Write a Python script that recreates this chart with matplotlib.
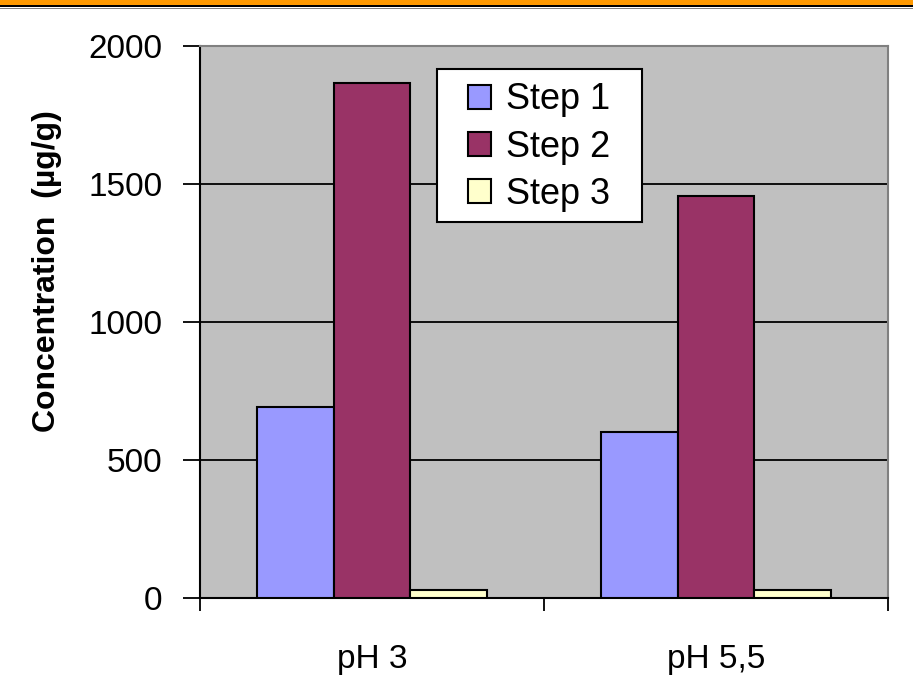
import numpy as np
import matplotlib.pyplot as plt
from matplotlib.patches import Rectangle

plt.rcParams['font.family'] = ['Liberation Sans', 'DejaVu Sans']

# Données
categories = ['pH 3', 'pH 5,5']
series = ['Step 1', 'Step 2', 'Step 3']
step1 = [692, 601]
step2 = [1866, 1457]
step3 = [30, 30]
colors = ['#9999FF', '#993366', '#FFFFCC']

fig = plt.figure(figsize=(9.13, 6.89), dpi=100)
ax = fig.add_axes([0.219, 0.1321, 0.7536, 0.8011])

# Bandeau en haut de la figure
fig.patches.append(Rectangle((0, 1 - 5 / 689), 1, 5 / 689, transform=fig.transFigure,
                             facecolor='#FF9900', edgecolor='none'))
fig.patches.append(Rectangle((0, 1 - 7 / 689), 1, 2 / 689, transform=fig.transFigure,
                             facecolor='black', edgecolor='none'))
fig.patches.append(Rectangle((0, 1 - 8.5 / 689), 1, 1 / 689, transform=fig.transFigure,
                             facecolor='#808080', edgecolor='none'))

x = np.arange(len(categories))
w = 0.223
for i, (vals, lab) in enumerate(zip([step1, step2, step3], series)):
    ax.bar(x + (i - 1) * w, vals, w, color=colors[i], edgecolor='black',
           linewidth=1.5, label=lab, zorder=3)

ax.set_facecolor('#C0C0C0')
ax.set_xlim(-0.5, 1.5)
ax.set_ylim(0, 2000)
ax.set_yticks([0, 500, 1000, 1500, 2000])
ax.yaxis.grid(True, color='black', linewidth=1.3, zorder=1)
ax.set_axisbelow(True)

ax.set_xticks(x)
ax.set_xticklabels(categories)
ax.set_xticks([-0.5, 0.5, 1.5], minor=True)
ax.tick_params(axis='x', which='major', length=0, pad=33, labelsize=24)
ax.tick_params(axis='x', which='minor', length=9, width=1.3, direction='out')
ax.tick_params(axis='y', length=12, width=1.3, direction='out', labelsize=24, pad=15)

for s in ['left', 'bottom']:
    ax.spines[s].set_color('black')
    ax.spines[s].set_linewidth(1.5)
for s in ['top', 'right']:
    ax.spines[s].set_color('#808080')
    ax.spines[s].set_linewidth(1.5)

ax.set_ylabel('Concentration  (\u00b5g/g)', fontsize=23, fontweight='bold')
ax.yaxis.set_label_coords(-0.20, 0.592)

# Cadre de la légende
ax.add_patch(Rectangle((0.3445, 0.681), 0.298, 0.277, transform=ax.transAxes,
                       facecolor='white', edgecolor='black', linewidth=1.5,
                       zorder=4, clip_on=False))
leg = ax.legend(loc='upper left', bbox_to_anchor=(0.3895, 0.934), borderaxespad=0,
                fontsize=26, frameon=False, handlelength=0.65, handleheight=0.65,
                handletextpad=0.4, labelspacing=0.34, borderpad=0)
leg.set_zorder(5)
for h in leg.legend_handles:
    h.set_linewidth(1.5)

fig.savefig('out.png', dpi=100)
